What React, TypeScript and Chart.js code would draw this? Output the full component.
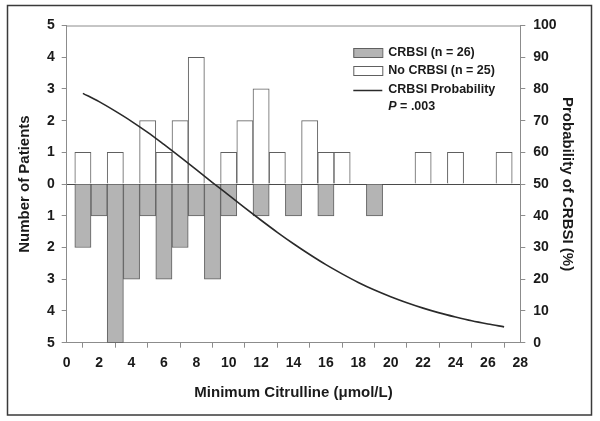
import React, { useEffect, useRef } from "react";
import { Chart, registerables } from "chart.js";

Chart.register(...registerables);

// Citrulline bins (µmol/L)
const noCrbsiX = [1, 3, 5, 6, 7, 8, 10, 11, 12, 13, 15, 16, 17, 22, 24, 27];
const noCrbsiCount = [1, 1, 2, 1, 2, 4, 1, 2, 3, 1, 2, 1, 1, 1, 1, 1];
const crbsiX = [1, 2, 3, 4, 5, 6, 7, 8, 9, 10, 12, 14, 16, 19];
const crbsiCount = [2, 1, 5, 3, 1, 3, 2, 1, 3, 1, 1, 1, 1, 1];
const probX = [1, 2, 3, 4, 5, 6, 7, 8, 9, 10, 11, 12, 13, 14, 15, 16, 17, 18, 19, 20, 21, 22, 23, 24, 25, 26, 27];
const probPct = [78.6, 76.0, 73.0, 69.8, 66.3, 62.5, 58.6, 54.6, 50.5, 46.5, 42.5, 38.6, 34.8, 31.2, 27.8, 24.6, 21.7, 19.0, 16.6, 14.5, 12.6, 10.9, 9.4, 8.1, 6.9, 5.9, 5.0];

const legendLabels = ["CRBSI (n = 26)", "No CRBSI (n = 25)", "CRBSI Probability"];
const pLabel = "P";
const pValue = " = .003";

const FONT = '"Liberation Sans", Arial, Helvetica, sans-serif';
const GRAY_FILL = "#b4b4b4";
const BAR_BORDER = "#606060";
const AXIS = "#8c8c8c";

export default function App() {
  const ref = useRef<HTMLCanvasElement | null>(null);

  useEffect(() => {
    if (!ref.current) return;

    const framePlugin = {
      id: "frameAndLegend",
      afterDraw(chart: any) {
        const { ctx, chartArea } = chart;
        ctx.save();
        // outer frame
        ctx.strokeStyle = "#3a3a3a";
        ctx.lineWidth = 1.5;
        ctx.strokeRect(7.5, 5.5, 584, 409.5);
        // top border of plot area
        ctx.strokeStyle = AXIS;
        ctx.lineWidth = 1;
        ctx.beginPath();
        ctx.moveTo(chartArea.left, chartArea.top + 0.5);
        ctx.lineTo(chartArea.right, chartArea.top + 0.5);
        ctx.stroke();

        // legend
        const bx = chartArea.right - 167;
        const tx = bx + 35;
        ctx.lineWidth = 1;
        ctx.fillStyle = GRAY_FILL;
        ctx.strokeStyle = BAR_BORDER;
        ctx.fillRect(bx, 48, 29, 9);
        ctx.strokeRect(bx + 0.5, 48.5, 29, 9);
        ctx.fillStyle = "#ffffff";
        ctx.fillRect(bx, 66, 29, 9);
        ctx.strokeRect(bx + 0.5, 66.5, 29, 9);
        ctx.strokeStyle = "#2a2a2a";
        ctx.lineWidth = 1.5;
        ctx.beginPath();
        ctx.moveTo(bx, 90.5);
        ctx.lineTo(bx + 29, 90.5);
        ctx.stroke();

        ctx.fillStyle = "#1a1a1a";
        ctx.textBaseline = "middle";
        ctx.textAlign = "left";
        ctx.font = `bold 12.5px ${FONT}`;
        ctx.fillText(legendLabels[0], tx, 53);
        ctx.fillText(legendLabels[1], tx, 71);
        ctx.fillText(legendLabels[2], tx, 90);
        ctx.font = `italic bold 12.5px ${FONT}`;
        ctx.fillText(pLabel, tx, 107);
        const pw = ctx.measureText(pLabel).width;
        ctx.font = `bold 12.5px ${FONT}`;
        ctx.fillText(pValue, tx + pw, 107);
        ctx.restore();
      },
    };

    const chart = new Chart(ref.current, {
      type: "bar",
      data: {
        datasets: [
          {
            type: "line",
            label: legendLabels[2],
            data: probX.map((x, i) => ({ x, y: probPct[i] })),
            yAxisID: "y2",
            borderColor: "#2a2a2a",
            borderWidth: 1.6,
            pointRadius: 0,
            cubicInterpolationMode: "monotone",
            fill: false,
            order: 0,
          } as any,
          {
            label: legendLabels[0],
            data: crbsiX.map((x, i) => ({ x, y: -crbsiCount[i] })),
            backgroundColor: GRAY_FILL,
            borderColor: BAR_BORDER,
            borderWidth: 1,
            grouped: false,
            barPercentage: 1,
            categoryPercentage: 1,
            yAxisID: "y",
            order: 2,
          } as any,
          {
            label: legendLabels[1],
            data: noCrbsiX.map((x, i) => ({ x, y: noCrbsiCount[i] })),
            backgroundColor: "#ffffff",
            borderColor: BAR_BORDER,
            borderWidth: 1,
            grouped: false,
            barPercentage: 1,
            categoryPercentage: 1,
            yAxisID: "y",
            order: 1,
          } as any,
        ],
      },
      options: {
        animation: false,
        responsive: true,
        maintainAspectRatio: false,
        layout: { padding: { left: 8, right: 8, top: 25.5, bottom: 7 } },
        plugins: {
          legend: { display: false },
          tooltip: { enabled: false },
        },
        scales: {
          x: {
            type: "linear",
            min: 0,
            max: 28,
            offset: false,
            border: { color: AXIS, width: 1 },
            grid: { drawOnChartArea: false, tickLength: 5, tickColor: AXIS },
            ticks: {
              stepSize: 2,
              autoSkip: false,
              maxRotation: 0,
              padding: 7,
              color: "#1a1a1a",
              font: { family: FONT, size: 14, weight: "bold" },
            },
            title: {
              display: true,
              text: "Minimum Citrulline (\u03bcmol/L)",
              color: "#1a1a1a",
              font: { family: FONT, size: 15, weight: "bold" },
              padding: { top: 0, bottom: 12.3 },
            },
            afterFit(scale: any) {
              scale.height = 71.3;
            },
          },
          y: {
            type: "linear",
            position: "left",
            min: -5,
            max: 5,
            border: { color: AXIS, width: 1 },
            grid: {
              tickLength: 5,
              tickColor: AXIS,
              color: (c: any) => (c.tick && c.tick.value === 0 ? "#4a4a4a" : "rgba(0,0,0,0)"),
              lineWidth: 1,
            },
            ticks: {
              stepSize: 1,
              padding: 7,
              color: "#1a1a1a",
              font: { family: FONT, size: 14, weight: "bold" },
              callback: (v: any) => String(Math.abs(Number(v))),
            },
            title: {
              display: true,
              text: "Number of Patients",
              color: "#1a1a1a",
              font: { family: FONT, size: 15, weight: "bold" },
              padding: { top: 8, bottom: 0 },
            },
            afterFit(scale: any) {
              scale.width = 58.7;
            },
          },
          y2: {
            type: "linear",
            position: "right",
            min: 0,
            max: 100,
            border: { color: AXIS, width: 1 },
            grid: { drawOnChartArea: false, tickLength: 5, tickColor: AXIS },
            ticks: {
              stepSize: 10,
              padding: 8,
              color: "#1a1a1a",
              font: { family: FONT, size: 14, weight: "bold" },
            },
            title: {
              display: true,
              text: "Probability of CRBSI (%)",
              color: "#1a1a1a",
              font: { family: FONT, size: 15, weight: "bold" },
              padding: { top: 16.3, bottom: 0 },
            },
            afterFit(scale: any) {
              scale.width = 71.7;
            },
          },
        },
      } as any,
      plugins: [framePlugin],
    });

    return () => chart.destroy();
  }, []);

  return (
    <div style={{ position: "absolute", left: 0, top: 0, width: 600, height: 421, background: "#ffffff" }}>
      <canvas ref={ref} />
    </div>
  );
}
